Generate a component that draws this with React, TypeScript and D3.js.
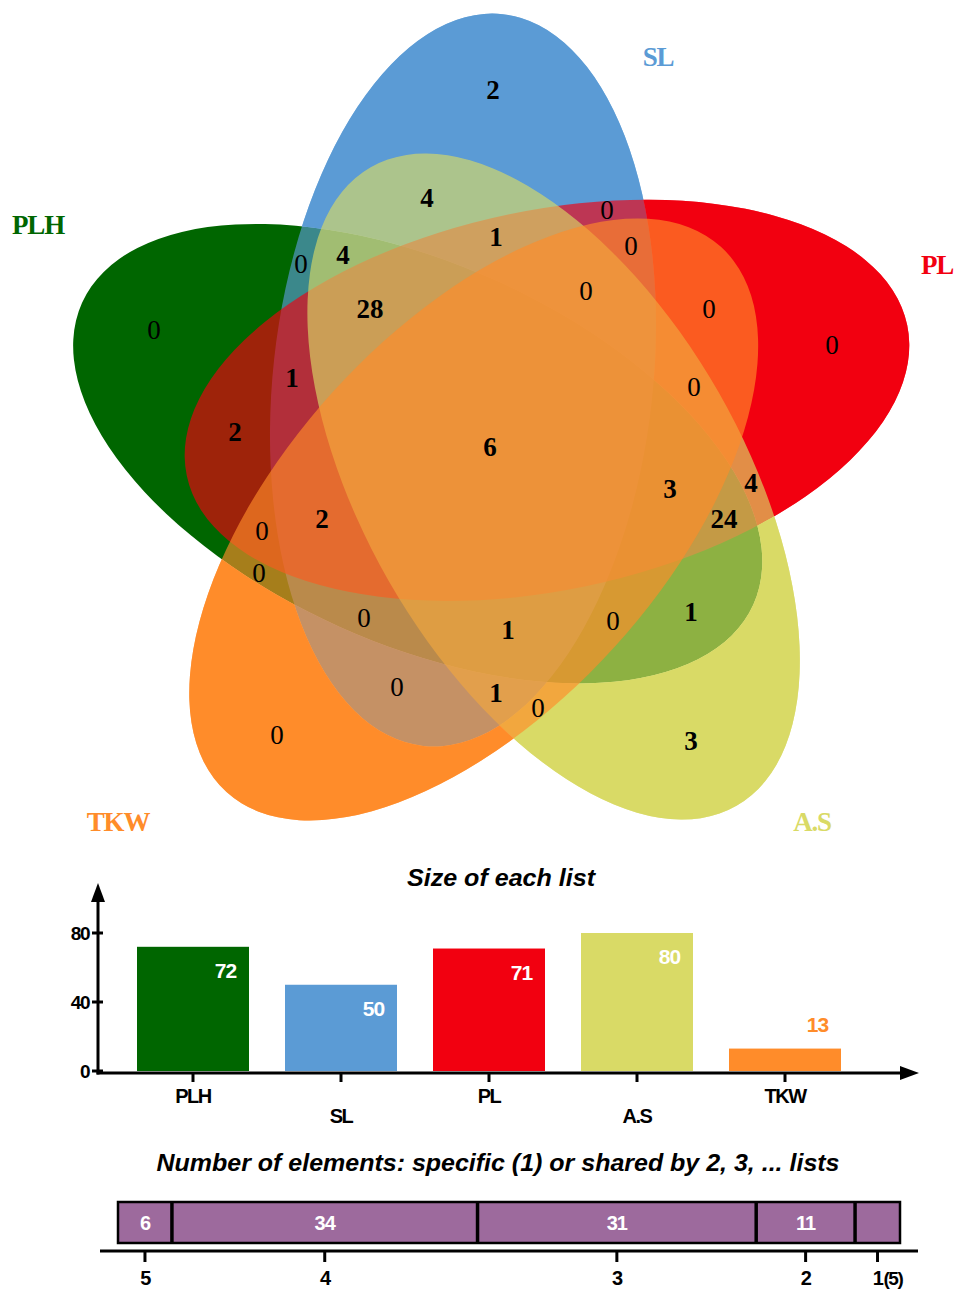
import { useMemo } from 'react'
import * as d3 from 'd3'

const W = 955
const H = 1289

// ---- data ----
const SETS = ['PLH', 'SL', 'PL', 'A.S', 'TKW']
const SET_COLORS = ['#006600', '#5b9bd5', '#f20010', '#d9da66', '#ff8c2a']
const SET_SIZES = [72, 50, 71, 80, 13]
const SIZE_TICKS = [0, 40, 80]

// every region of the venn, with the number of elements in it
const REGIONS = [
  ['PLH'], ['SL'], ['PL'], ['A.S'], ['TKW'],
  ['PLH', 'SL'], ['PLH', 'PL'], ['PLH', 'A.S'], ['PLH', 'TKW'], ['SL', 'PL'],
  ['SL', 'A.S'], ['SL', 'TKW'], ['PL', 'A.S'], ['PL', 'TKW'], ['A.S', 'TKW'],
  ['PLH', 'SL', 'PL'], ['PLH', 'SL', 'A.S'], ['PLH', 'SL', 'TKW'], ['PLH', 'PL', 'A.S'], ['PLH', 'PL', 'TKW'],
  ['PLH', 'A.S', 'TKW'], ['SL', 'PL', 'A.S'], ['SL', 'PL', 'TKW'], ['SL', 'A.S', 'TKW'], ['PL', 'A.S', 'TKW'],
  ['PLH', 'SL', 'PL', 'A.S'], ['PLH', 'SL', 'PL', 'TKW'], ['PLH', 'SL', 'A.S', 'TKW'], ['PLH', 'PL', 'A.S', 'TKW'], ['SL', 'PL', 'A.S', 'TKW'],
  ['PLH', 'SL', 'PL', 'A.S', 'TKW'],
]
const REGION_COUNTS = [
  0, 2, 0, 3, 0,
  0, 2, 1, 0, 0,
  4, 0, 4, 0, 0,
  1, 4, 0, 24, 0,
  0, 1, 0, 1, 0,
  28, 2, 1, 3, 0,
  6,
]

const SHARE_LEVELS = ['5', '4', '3', '2', '1']
const SHARE_COUNTS = [6, 34, 31, 11, 5]

// ---- layout ----
const VENN = { cx: 491, cy: 448, offset: 73.5, angle0: -112.4, rx: 190, ry: 368, rot0: 6.2 }
const CLOCKWISE = ['SL', 'PL', 'A.S', 'TKW', 'PLH']
const SET_LABEL_XY: [number, number][] = [[38, 234], [658, 66], [937, 274], [812, 831], [118, 831]]
const ALPHA = 0.65

type Ell = { cx: number; cy: number; rot: number }

const ellipses: Ell[] = SETS.map((name) => {
  const k = CLOCKWISE.indexOf(name)
  const a = ((VENN.angle0 + 72 * k) * Math.PI) / 180
  return {
    cx: VENN.cx + VENN.offset * Math.cos(a),
    cy: VENN.cy + VENN.offset * Math.sin(a),
    rot: VENN.rot0 + 72 * k,
  }
})

const inside = (e: Ell, x: number, y: number) => {
  const t = (e.rot * Math.PI) / 180
  const dx = x - e.cx
  const dy = y - e.cy
  const u = dx * Math.cos(t) + dy * Math.sin(t)
  const v = -dx * Math.sin(t) + dy * Math.cos(t)
  return (u / VENN.rx) ** 2 + (v / VENN.ry) ** 2 <= 1
}

const popcount = (m: number) => m.toString(2).split('1').length - 1

// put each count deep inside its region; shared regions lean towards their centroid
function regionAnchors() {
  const step = 3
  const x0 = 40
  const nx = Math.ceil((W - x0) / step)
  const ny = Math.ceil(870 / step)
  const mask = new Int32Array(nx * ny)
  for (let j = 0; j < ny; j++)
    for (let i = 0; i < nx; i++) {
      let m = 0
      ellipses.forEach((e, k) => {
        if (inside(e, x0 + i * step, j * step)) m |= 1 << k
      })
      mask[j * nx + i] = m
    }
  const dist = new Float32Array(nx * ny)
  for (let j = 0; j < ny; j++)
    for (let i = 0; i < nx; i++) {
      const id = j * nx + i
      const m = mask[id]
      const edge =
        i === 0 || j === 0 || i === nx - 1 || j === ny - 1 ||
        mask[id - 1] !== m || mask[id + 1] !== m || mask[id - nx] !== m || mask[id + nx] !== m
      dist[id] = edge ? 0 : 1e9
    }
  for (let j = 1; j < ny - 1; j++)
    for (let i = 1; i < nx - 1; i++) {
      const id = j * nx + i
      dist[id] = Math.min(dist[id], dist[id - 1] + 3, dist[id - nx] + 3, dist[id - nx - 1] + 4, dist[id - nx + 1] + 4)
    }
  for (let j = ny - 2; j > 0; j--)
    for (let i = nx - 2; i > 0; i--) {
      const id = j * nx + i
      dist[id] = Math.min(dist[id], dist[id + 1] + 3, dist[id + nx] + 3, dist[id + nx + 1] + 4, dist[id + nx - 1] + 4)
    }
  const stats = new Map<number, { max: number; sx: number; sy: number; n: number }>()
  for (let id = 0; id < mask.length; id++) {
    const m = mask[id]
    if (!m) continue
    const s = stats.get(m) || { max: 0, sx: 0, sy: 0, n: 0 }
    s.max = Math.max(s.max, dist[id])
    s.sx += (id % nx) * step + x0
    s.sy += Math.floor(id / nx) * step
    s.n++
    stats.set(m, s)
  }
  const best = new Map<number, { d: number; x: number; y: number }>()
  for (let id = 0; id < mask.length; id++) {
    const m = mask[id]
    if (!m) continue
    const s = stats.get(m)!
    const keep = popcount(m) === 1 ? 1 : 0.7
    if (dist[id] < s.max * keep) continue
    const px = (id % nx) * step + x0
    const py = Math.floor(id / nx) * step
    const d = Math.hypot(px - s.sx / s.n, py - s.sy / s.n)
    const cur = best.get(m)
    if (!cur || d < cur.d) best.set(m, { d, x: px, y: py })
  }
  return best
}

const serif = '"Liberation Serif", "Times New Roman", serif'
const sans = '"Liberation Sans", Arial, sans-serif'

function Venn() {
  const anchors = useMemo(regionAnchors, [])
  const ell = (e: Ell, props: any, key?: string) => (
    <ellipse
      key={key}
      cx={e.cx}
      cy={e.cy}
      rx={VENN.rx}
      ry={VENN.ry}
      transform={`rotate(${e.rot} ${e.cx} ${e.cy})`}
      {...props}
    />
  )
  return (
    <g>
      <defs>
        {ellipses.map((_, i) =>
          i === 0 ? null : (
            <mask key={i} id={`excl${i}`} maskUnits="userSpaceOnUse" x={0} y={0} width={W} height={H}>
              <rect width={W} height={H} fill="white" />
              {ellipses.slice(0, i).map((p, j) => ell(p, { fill: 'black' }, `m${j}`))}
            </mask>
          )
        )}
      </defs>
      {ellipses.map((e, i) => (
        <g key={SETS[i]}>
          {ell(e, { fill: SET_COLORS[i], fillOpacity: i === 0 ? 1 : ALPHA })}
          {i > 0 && <g mask={`url(#excl${i})`}>{ell(e, { fill: SET_COLORS[i] })}</g>}
        </g>
      ))}
      {REGIONS.map((sets, r) => {
        const m = sets.reduce((acc, s) => acc | (1 << SETS.indexOf(s)), 0)
        const p = anchors.get(m)
        if (!p) return null
        const c = REGION_COUNTS[r]
        return (
          <text
            key={r}
            x={p.x}
            y={p.y}
            textAnchor="middle"
            dominantBaseline="central"
            fontFamily={serif}
            fontSize={27}
            fontWeight={c > 0 ? 'bold' : 'normal'}
            fill="#000"
          >
            {c}
          </text>
        )
      })}
      {SETS.map((s, i) => (
        <text
          key={s}
          x={SET_LABEL_XY[i][0]}
          y={SET_LABEL_XY[i][1]}
          textAnchor="middle"
          fontFamily={serif}
          fontWeight="bold"
          fontSize={27}
          letterSpacing={-1.2}
          fill={SET_COLORS[i]}
        >
          {s}
        </text>
      ))}
    </g>
  )
}

function SizeBars() {
  const x = d3.scaleBand<string>().domain(SETS).range([119, 859]).paddingInner(36 / 148).paddingOuter(18 / 148)
  const y = d3.scaleLinear().domain([0, 80]).range([1071, 933])
  const axisY = 1073
  const axisX = 98
  return (
    <g fontFamily={sans} fontWeight="bold">
      <text x={501} y={886} textAnchor="middle" fontStyle="italic" fontSize={23} textLength={188} lengthAdjust="spacingAndGlyphs">
        Size of each list
      </text>
      {SETS.map((s, i) => {
        const v = SET_SIZES[i]
        const bx = x(s)!
        const bw = x.bandwidth()
        const top = y(v)
        const inner = y(0) - top > 40
        return (
          <g key={s}>
            <rect x={bx} y={top} width={bw} height={y(0) - top} fill={SET_COLORS[i]} />
            <text
              x={bx + bw * 0.79}
              y={inner ? top + 31 : top - 17}
              textAnchor="middle"
              fontSize={21}
              letterSpacing={-1}
              fill={inner ? '#fff' : SET_COLORS[i]}
            >
              {v}
            </text>
            <line x1={bx + bw / 2} x2={bx + bw / 2} y1={axisY} y2={axisY + 9} stroke="#000" strokeWidth={3} />
            <text
              x={bx + bw / 2}
              y={i % 2 === 0 ? 1103 : 1123}
              textAnchor="middle"
              fontSize={20}
              letterSpacing={-1.5}
              fill="#000"
            >
              {s}
            </text>
          </g>
        )
      })}
      {SIZE_TICKS.map((t) => (
        <g key={t}>
          <line x1={axisX - 6} x2={axisX + 5} y1={y(t)} y2={y(t)} stroke="#000" strokeWidth={3} />
          <text x={axisX - 9} y={y(t) + 7} textAnchor="end" fontSize={19} letterSpacing={-1.5} fill="#000">
            {t}
          </text>
        </g>
      ))}
      <line x1={axisX} x2={axisX} y1={axisY + 1.5} y2={898} stroke="#000" strokeWidth={3} />
      <polygon points={`${axisX},883 ${axisX - 7},902 ${axisX + 7},902`} fill="#000" />
      <line x1={axisX - 1.5} x2={905} y1={axisY} y2={axisY} stroke="#000" strokeWidth={3} />
      <polygon points={`919,${axisY} 900,${axisY - 7} 900,${axisY + 7}`} fill="#000" />
    </g>
  )
}

function ShareBar() {
  const total = d3.sum(SHARE_COUNTS)
  const x = d3.scaleLinear().domain([0, total]).range([118, 900])
  const ends = Array.from(d3.cumsum(SHARE_COUNTS))
  const starts = ends.map((e, i) => e - SHARE_COUNTS[i])
  const top = 1202
  const bottom = 1243
  const axisY = 1251
  return (
    <g fontFamily={sans} fontWeight="bold">
      <text x={498} y={1171} textAnchor="middle" fontStyle="italic" fontSize={23} textLength={683} lengthAdjust="spacingAndGlyphs">
        Number of elements: specific (1) or shared by 2, 3, ... lists
      </text>
      {SHARE_COUNTS.map((c, i) => {
        const x0 = x(starts[i])
        const x1 = x(ends[i])
        const roomy = x1 - x0 > 50
        const mid = (x0 + x1) / 2
        return (
          <g key={SHARE_LEVELS[i]}>
            <rect x={x0} y={top} width={x1 - x0} height={bottom - top} fill="#9d6a9d" />
            {roomy && (
              <text x={mid} y={1230} textAnchor="middle" fontSize={20} letterSpacing={-1} fill="#fff">
                {c}
              </text>
            )}
            <line x1={mid} x2={mid} y1={axisY} y2={axisY + 11} stroke="#000" strokeWidth={3} />
            <text x={mid} y={1285} textAnchor="middle" fontSize={20} letterSpacing={-1.5} fill="#000">
              {SHARE_LEVELS[i]}
            </text>
            {!roomy && (
              <text x={mid + 6} y={1285} textAnchor="start" fontSize={19} letterSpacing={-1.5} fill="#000">
                ({c})
              </text>
            )}
          </g>
        )
      })}
      {ends.slice(0, -1).map((e) => (
        <line key={e} x1={x(e)} x2={x(e)} y1={top} y2={bottom} stroke="#000" strokeWidth={3.5} />
      ))}
      <rect x={x(0)} y={top} width={x(total) - x(0)} height={bottom - top} fill="none" stroke="#000" strokeWidth={2.5} />
      <line x1={100} x2={918} y1={axisY} y2={axisY} stroke="#000" strokeWidth={3} />
    </g>
  )
}

export default function App() {
  return (
    <svg
      width={W}
      height={H}
      viewBox={`0 0 ${W} ${H}`}
      style={{ position: 'absolute', left: 0, top: 0, display: 'block', background: '#fff' }}
    >
      <Venn />
      <SizeBars />
      <ShareBar />
    </svg>
  )
}
